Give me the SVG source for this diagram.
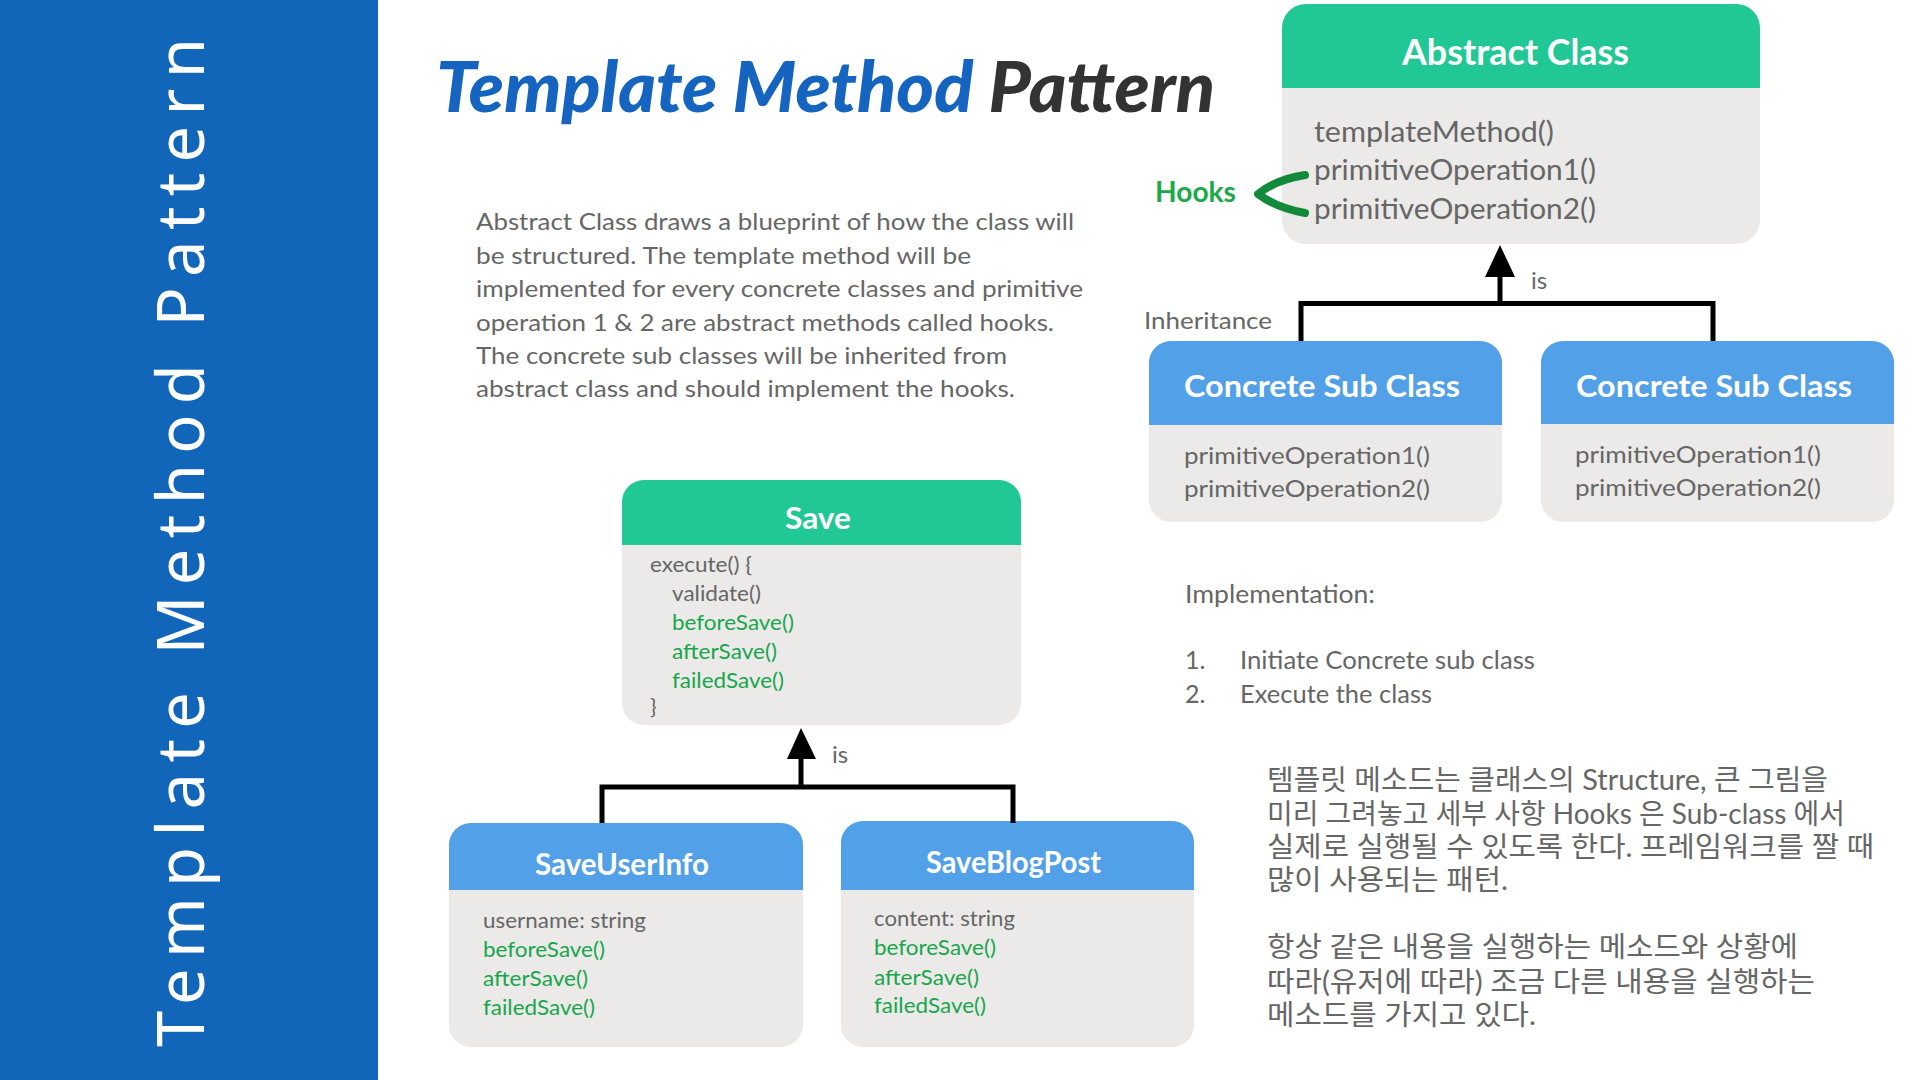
<svg xmlns="http://www.w3.org/2000/svg" width="1920" height="1080" viewBox="0 0 1920 1080">
  <style>
    text { font-family: Lato, "Noto Sans", "Noto Sans CJK KR", sans-serif; }
    .body { fill: #EBEAE9; }
    .hg { fill: #21C895; }
    .hb { fill: #52A0E8; }
    .ttl { font-weight: 700; fill: #FFFFFF; }
    .m { fill: #666666; }
    .g { fill: #18A64A; }
    .ln { stroke: #000000; stroke-width: 5; fill: none; }
    .kr { font-family: Lato, "Noto Sans CJK KR", sans-serif; fill: #666666; font-size: 28px; }
  </style>

  <!-- sidebar -->
  <rect x="0" y="0" width="378" height="1080" fill="#1266BA"/>
  <text transform="translate(204,1047) rotate(-90)" style="font-family:'Noto Sans',sans-serif" font-size="65" fill="#FFFFFF" textLength="1009" lengthAdjust="spacing">Template Method Pattern</text>

  <!-- heading -->
  <text x="436" y="112" font-size="70" font-weight="900" font-style="italic" textLength="779" lengthAdjust="spacingAndGlyphs"><tspan fill="#1565C0">Template Method </tspan><tspan fill="#333333">Pattern</tspan></text>

  <!-- description -->
  <g class="m" font-size="23">
    <text x="476" y="230" textLength="598" lengthAdjust="spacingAndGlyphs">Abstract Class draws a blueprint of how the class will</text>
    <text x="476" y="263.5" textLength="495" lengthAdjust="spacingAndGlyphs">be structured. The template method will be</text>
    <text x="476" y="297" textLength="607" lengthAdjust="spacingAndGlyphs">implemented for every concrete classes and primitive</text>
    <text x="476" y="330.5" textLength="578" lengthAdjust="spacingAndGlyphs">operation 1 &amp; 2 are abstract methods called hooks.</text>
    <text x="476" y="364" textLength="531" lengthAdjust="spacingAndGlyphs">The concrete sub classes will be inherited from</text>
    <text x="476" y="397" textLength="539" lengthAdjust="spacingAndGlyphs">abstract class and should implement the hooks.</text>
  </g>

  <!-- abstract class -->
  <g id="abstract-class">
    <rect class="body" x="1282" y="4" width="478" height="240" rx="24"/>
    <path class="hg" d="M1282,88 V28 A24,24 0 0 1 1306,4 H1736 A24,24 0 0 1 1760,28 V88 Z"/>
    <text class="ttl" x="1402" y="65" font-size="36" textLength="227" lengthAdjust="spacingAndGlyphs">Abstract Class</text>
    <g class="m" font-size="28">
      <text x="1314" y="142" textLength="240" lengthAdjust="spacingAndGlyphs">templateMethod()</text>
      <text x="1314" y="180" textLength="282" lengthAdjust="spacingAndGlyphs">primitiveOperation1()</text>
      <text x="1314" y="218.5" textLength="282" lengthAdjust="spacingAndGlyphs">primitiveOperation2()</text>
    </g>
  </g>

  <!-- concrete sub class (left) -->
  <g id="concrete-sub-class-1">
    <rect class="body" x="1149" y="341" width="353" height="181" rx="22"/>
    <path class="hb" d="M1149,425 V363 A22,22 0 0 1 1171,341 H1480 A22,22 0 0 1 1502,363 V425 Z"/>
    <text class="ttl" x="1184" y="397" font-size="31" textLength="276" lengthAdjust="spacingAndGlyphs">Concrete Sub Class</text>
    <g class="m" font-size="24">
      <text x="1184" y="463.5" textLength="246" lengthAdjust="spacingAndGlyphs">primitiveOperation1()</text>
      <text x="1184" y="496.5" textLength="246" lengthAdjust="spacingAndGlyphs">primitiveOperation2()</text>
    </g>
  </g>

  <!-- concrete sub class (right) -->
  <g id="concrete-sub-class-2">
    <rect class="body" x="1541" y="341" width="353" height="181" rx="22"/>
    <path class="hb" d="M1541,424 V363 A22,22 0 0 1 1563,341 H1872 A22,22 0 0 1 1894,363 V424 Z"/>
    <text class="ttl" x="1576" y="396.5" font-size="31" textLength="276" lengthAdjust="spacingAndGlyphs">Concrete Sub Class</text>
    <g class="m" font-size="24">
      <text x="1575" y="463" textLength="246" lengthAdjust="spacingAndGlyphs">primitiveOperation1()</text>
      <text x="1575" y="496" textLength="246" lengthAdjust="spacingAndGlyphs">primitiveOperation2()</text>
    </g>
  </g>

  <!-- Save -->
  <g id="save">
    <rect class="body" x="622" y="480" width="399" height="245" rx="22"/>
    <path class="hg" d="M622,545 V502 A22,22 0 0 1 644,480 H999 A22,22 0 0 1 1021,502 V545 Z"/>
    <text class="ttl" x="785" y="528.5" font-size="31" textLength="66" lengthAdjust="spacingAndGlyphs">Save</text>
    <g font-size="22">
      <text class="m" x="650" y="571.5" textLength="102" lengthAdjust="spacingAndGlyphs">execute() {</text>
      <text class="m" x="672" y="601" textLength="89" lengthAdjust="spacingAndGlyphs">validate()</text>
      <text class="g" x="672" y="630" textLength="122" lengthAdjust="spacingAndGlyphs">beforeSave()</text>
      <text class="g" x="672" y="659" textLength="105" lengthAdjust="spacingAndGlyphs">afterSave()</text>
      <text class="g" x="672" y="688" textLength="112" lengthAdjust="spacingAndGlyphs">failedSave()</text>
      <text class="m" x="650" y="714">}</text>
    </g>
  </g>

  <!-- SaveUserInfo -->
  <g id="save-user-info">
    <rect class="body" x="449" y="823" width="354" height="224" rx="22"/>
    <path class="hb" d="M449,890 V845 A22,22 0 0 1 471,823 H781 A22,22 0 0 1 803,845 V890 Z"/>
    <text class="ttl" x="535" y="874.5" font-size="30" textLength="174" lengthAdjust="spacingAndGlyphs">SaveUserInfo</text>
    <g font-size="22">
      <text class="m" x="483" y="927.5" textLength="163" lengthAdjust="spacingAndGlyphs">username: string</text>
      <text class="g" x="483" y="956.5" textLength="122" lengthAdjust="spacingAndGlyphs">beforeSave()</text>
      <text class="g" x="483" y="986" textLength="105" lengthAdjust="spacingAndGlyphs">afterSave()</text>
      <text class="g" x="483" y="1014.5" textLength="112" lengthAdjust="spacingAndGlyphs">failedSave()</text>
    </g>
  </g>

  <!-- SaveBlogPost -->
  <g id="save-blog-post">
    <rect class="body" x="841" y="821" width="353" height="226" rx="22"/>
    <path class="hb" d="M841,890 V843 A22,22 0 0 1 863,821 H1172 A22,22 0 0 1 1194,843 V890 Z"/>
    <text class="ttl" x="926" y="872.5" font-size="30" textLength="175" lengthAdjust="spacingAndGlyphs">SaveBlogPost</text>
    <g font-size="22">
      <text class="m" x="874" y="926" textLength="141" lengthAdjust="spacingAndGlyphs">content: string</text>
      <text class="g" x="874" y="955" textLength="122" lengthAdjust="spacingAndGlyphs">beforeSave()</text>
      <text class="g" x="874" y="984.5" textLength="105" lengthAdjust="spacingAndGlyphs">afterSave()</text>
      <text class="g" x="874" y="1013" textLength="112" lengthAdjust="spacingAndGlyphs">failedSave()</text>
    </g>
  </g>

  <!-- connectors -->
  <g id="connectors">
    <path class="ln" d="M1301,341 V303.5 H1713 V341"/>
    <line class="ln" x1="1500" y1="303.5" x2="1500" y2="272"/>
    <polygon points="1500,245 1485,277 1515,277" fill="#000"/>
    <path class="ln" d="M602,823 V787 H1013 V823"/>
    <line class="ln" x1="801" y1="787" x2="801" y2="755"/>
    <polygon points="801,728 787,759 816,759" fill="#000"/>
    <!-- hooks bracket over the two primitive operations -->
    <path d="M1305,175 C1285,178 1268,186 1258,194 C1270,203 1288,210 1305,213" fill="none" stroke="#138A3B" stroke-width="8" stroke-linecap="round" stroke-linejoin="round"/>
  </g>

  <!-- connector labels -->
  <text class="m" x="1531" y="289" font-size="24">is</text>
  <text class="m" x="832" y="763" font-size="24">is</text>
  <text class="m" x="1144" y="329" font-size="24" textLength="128" lengthAdjust="spacingAndGlyphs">Inheritance</text>
  <text x="1155" y="202" font-size="29" font-weight="700" fill="#1AAA4A" textLength="81" lengthAdjust="spacingAndGlyphs">Hooks</text>

  <!-- implementation steps -->
  <g class="m" font-size="25">
    <text x="1185" y="602.5" textLength="190" lengthAdjust="spacingAndGlyphs">Implementation:</text>
    <text x="1185" y="669">1.</text>
    <text x="1240" y="669" textLength="295" lengthAdjust="spacingAndGlyphs">Initiate Concrete sub class</text>
    <text x="1185" y="703">2.</text>
    <text x="1240" y="703" textLength="192" lengthAdjust="spacingAndGlyphs">Execute the class</text>
  </g>

  <!-- Korean notes -->
  <g>
    <text class="kr" x="1267" y="790" textLength="561" lengthAdjust="spacingAndGlyphs">템플릿 메소드는 클래스의 Structure, 큰 그림을</text>
    <text class="kr" x="1267" y="823.5" textLength="578" lengthAdjust="spacingAndGlyphs">미리 그려놓고 세부 사항 Hooks 은 Sub-class 에서</text>
    <text class="kr" x="1267" y="857" textLength="607" lengthAdjust="spacingAndGlyphs">실제로 실행될 수 있도록 한다. 프레임워크를 짤 때</text>
    <text class="kr" x="1267" y="890" textLength="241" lengthAdjust="spacingAndGlyphs">많이 사용되는 패턴.</text>
    <text class="kr" x="1267" y="957" textLength="531" lengthAdjust="spacingAndGlyphs">항상 같은 내용을 실행하는 메소드와 상황에</text>
    <text class="kr" x="1267" y="991.5" textLength="548" lengthAdjust="spacingAndGlyphs">따라(유저에 따라) 조금 다른 내용을 실행하는</text>
    <text class="kr" x="1267" y="1025" textLength="269" lengthAdjust="spacingAndGlyphs">메소드를 가지고 있다.</text>
  </g>
</svg>
